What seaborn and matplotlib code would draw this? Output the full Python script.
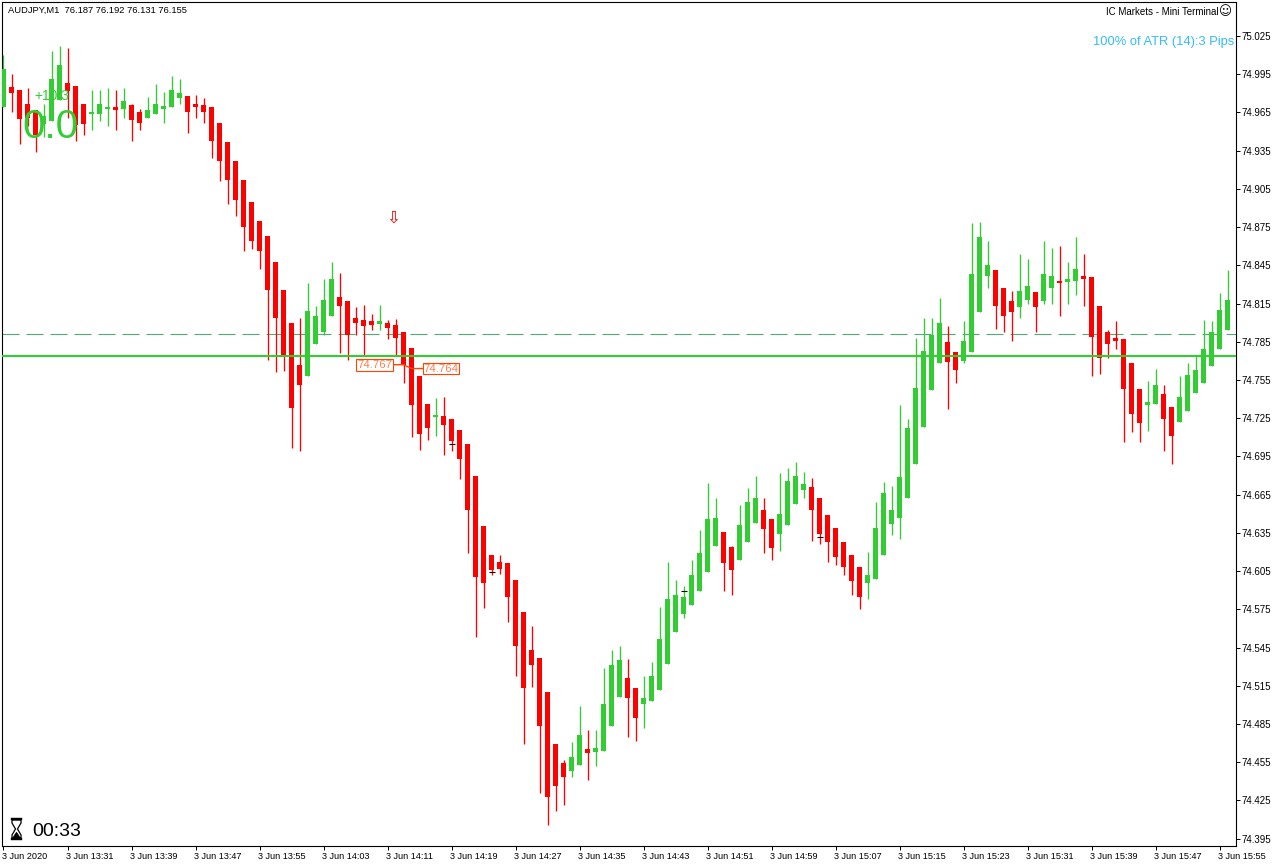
import matplotlib
matplotlib.use("Agg")
import matplotlib.pyplot as plt
from matplotlib.patches import Polygon
from matplotlib.transforms import ScaledTranslation
import numpy as np
import pandas as pd
import seaborn as sns

opens = [74.969,74.985,74.983,74.972,74.967,74.956,74.958,74.975,74.988,74.986,
74.972,74.964,74.964,74.968,74.969,74.968,74.971,74.965,74.961,74.964,
74.968,74.969,74.976,74.978,74.972,74.971,74.969,74.957,74.942,74.927,
74.912,74.895,74.880,74.868,74.848,74.826,74.800,74.767,74.758,74.783,
74.793,74.805,74.820,74.817,74.804,74.802,74.801,74.799,74.800,74.798,
74.793,74.780,74.758,74.736,74.726,74.727,74.724,74.716,74.705,74.680,
74.640,74.618,74.612,74.611,74.598,74.573,74.543,74.537,74.510,74.469,
74.454,74.448,74.453,74.465,74.463,74.464,74.483,74.506,74.521,74.513,
74.501,74.503,74.512,74.532,74.557,74.571,74.578,74.589,74.604,74.625,
74.636,74.624,74.614,74.628,74.643,74.653,74.646,74.634,74.641,74.658,
74.669,74.671,74.662,74.649,74.639,74.628,74.618,74.608,74.596,74.599,
74.618,74.642,74.647,74.662,74.689,74.718,74.747,74.768,74.785,74.777,
74.770,74.777,74.808,74.837,74.841,74.827,74.817,74.812,74.818,74.824,
74.817,74.827,74.833,74.832,74.833,74.837,74.836,74.813,74.793,74.788,
74.787,74.768,74.748,74.735,74.736,74.744,74.734,74.722,74.731,74.745,
74.753,74.766,74.779,74.794]
highs = [75.010,74.995,74.983,74.984,74.967,74.972,75.013,75.017,75.016,74.986,
74.972,74.983,74.983,74.984,74.983,74.984,74.972,74.968,74.977,74.987,
74.981,74.994,74.991,74.978,74.979,74.976,74.969,74.957,74.942,74.927,
74.912,74.895,74.880,74.868,74.848,74.826,74.800,74.804,74.831,74.813,
74.834,74.848,74.839,74.817,74.812,74.814,74.807,74.814,74.802,74.803,
74.793,74.780,74.758,74.736,74.741,74.742,74.724,74.716,74.705,74.680,
74.640,74.618,74.618,74.611,74.598,74.573,74.562,74.537,74.510,74.469,
74.457,74.471,74.499,74.480,74.480,74.529,74.543,74.546,74.536,74.513,
74.523,74.534,74.577,74.612,74.598,74.593,74.614,74.637,74.674,74.662,
74.636,74.625,74.657,74.670,74.680,74.662,74.646,74.682,74.686,74.691,
74.683,74.678,74.662,74.649,74.639,74.628,74.618,74.608,74.620,74.659,
74.675,74.672,74.735,74.724,74.788,74.804,74.804,74.819,74.797,74.777,
74.801,74.878,74.879,74.864,74.841,74.827,74.825,74.854,74.850,74.824,
74.864,74.859,74.860,74.848,74.867,74.854,74.836,74.813,74.794,74.801,
74.787,74.768,74.748,74.754,74.764,74.751,74.734,74.758,74.768,74.775,
74.802,74.801,74.823,74.841]
lows = [74.969,74.965,74.940,74.954,74.934,74.946,74.958,74.975,74.961,74.943,
74.947,74.951,74.958,74.954,74.951,74.961,74.943,74.951,74.961,74.964,
74.957,74.969,74.972,74.949,74.961,74.957,74.929,74.911,74.893,74.884,
74.856,74.858,74.842,74.771,74.761,74.762,74.702,74.699,74.758,74.783,
74.790,74.805,74.776,74.771,74.790,74.775,74.794,74.794,74.787,74.775,
74.753,74.710,74.700,74.708,74.711,74.696,74.699,74.677,74.619,74.553,
74.576,74.602,74.603,74.565,74.523,74.469,74.514,74.431,74.406,74.417,
74.421,74.443,74.453,74.441,74.452,74.464,74.483,74.506,74.475,74.472,
74.482,74.503,74.512,74.532,74.557,74.568,74.578,74.589,74.604,74.625,
74.589,74.586,74.614,74.628,74.643,74.619,74.614,74.621,74.641,74.658,
74.662,74.629,74.626,74.612,74.610,74.602,74.586,74.575,74.583,74.599,
74.618,74.633,74.630,74.662,74.689,74.718,74.747,74.768,74.732,74.753,
74.768,74.777,74.808,74.827,74.795,74.793,74.786,74.804,74.815,74.793,
74.815,74.815,74.805,74.815,74.822,74.813,74.758,74.760,74.772,74.779,
74.706,74.714,74.706,74.715,74.736,74.699,74.689,74.722,74.731,74.745,
74.753,74.766,74.779,74.794]
closes = [74.999,74.980,74.960,74.961,74.947,74.962,74.991,75.002,74.982,74.955,
74.956,74.965,74.972,74.969,74.967,74.974,74.959,74.957,74.967,74.972,
74.970,74.983,74.980,74.965,74.969,74.965,74.943,74.927,74.912,74.896,
74.875,74.864,74.856,74.826,74.804,74.773,74.733,74.751,74.809,74.805,
74.818,74.834,74.813,74.790,74.800,74.797,74.798,74.801,74.796,74.788,
74.767,74.735,74.713,74.717,74.727,74.720,74.707,74.693,74.653,74.600,
74.596,74.606,74.607,74.585,74.546,74.513,74.531,74.483,74.428,74.436,
74.443,74.459,74.476,74.462,74.466,74.501,74.531,74.535,74.505,74.490,
74.505,74.523,74.552,74.583,74.586,74.585,74.602,74.619,74.646,74.647,
74.611,74.606,74.641,74.659,74.662,74.638,74.623,74.650,74.676,74.680,
74.673,74.653,74.634,74.628,74.616,74.608,74.597,74.585,74.602,74.639,
74.666,74.653,74.679,74.717,74.749,74.778,74.790,74.800,74.769,74.763,
74.786,74.838,74.867,74.845,74.813,74.805,74.808,74.825,74.829,74.812,
74.838,74.837,74.831,74.834,74.842,74.834,74.789,74.772,74.783,74.786,
74.748,74.728,74.721,74.738,74.751,74.724,74.711,74.742,74.759,74.763,
74.779,74.793,74.810,74.818]

time_labels = ["3 Jun 2020","3 Jun 13:31","3 Jun 13:39","3 Jun 13:47","3 Jun 13:55",
               "3 Jun 14:03","3 Jun 14:11","3 Jun 14:19","3 Jun 14:27","3 Jun 14:35",
               "3 Jun 14:43","3 Jun 14:51","3 Jun 14:59","3 Jun 15:07","3 Jun 15:15",
               "3 Jun 15:23","3 Jun 15:31","3 Jun 15:39","3 Jun 15:47","3 Jun 15:55"]
price_ticks = [75.025,74.995,74.965,74.935,74.905,74.875,74.845,74.815,74.785,74.755,74.725,
               74.695,74.665,74.635,74.605,74.575,74.545,74.515,74.485,74.455,74.425,74.395]
cross_minutes = [56,61,85,102]
cross_prices = [74.705,74.604,74.589,74.632]
solid_level = 74.774
dashed_level = 74.7915
entry_price = 74.767
exit_price = 74.764

GREEN = "#32CD32"
RED = "#FF0000"
W, H = 1276, 867
UI = "Liberation Sans"

sns.set_theme(style="white")
plt.rcParams["font.family"] = [UI, "DejaVu Sans"]

df = pd.DataFrame({"minute": np.arange(len(opens)), "open": opens, "high": highs,
                   "low": lows, "close": closes})
df["bottom"] = df[["open", "close"]].min(axis=1)
df["body"] = (df["open"] - df["close"]).abs().clip(lower=0.0012)
df["color"] = np.where(df["close"] >= df["open"], GREEN, RED)

fig = plt.figure(figsize=(W / 100, H / 100), dpi=100, facecolor="white")
ax = fig.add_axes([2.5 / W, 1 - 846 / H, (1235.7 - 2.5) / W, (846 - 2.3) / H])
ax.set_facecolor("white")

ax.axhline(dashed_level, color="#55A87C", lw=0.8, ls=(0, (15.3, 6.3)), zorder=1)

ax.vlines(df["minute"], df["low"], df["high"], colors=df["color"], lw=0.95, zorder=2)
sns.barplot(data=df, x="minute", y="body", bottom=df["bottom"].to_numpy(), color=GREEN,
            saturation=1, width=0.625, errorbar=None, linewidth=0, zorder=3, ax=ax)
for patch, color in zip(ax.containers[0], df["color"]):
    patch.set_facecolor(color)

sns.scatterplot(x=cross_minutes, y=cross_prices, marker="_", s=22, color="black",
                linewidth=0.8, zorder=4, ax=ax, legend=False)

ax.axhline(solid_level, color=GREEN, lw=1.5, zorder=5)

# trade connector between the two price boxes
sns.lineplot(x=[48.7, 50, 51, 52.4], y=[entry_price, entry_price, exit_price, exit_price],
             sort=False, estimator=None, color="#FF4500", lw=1.0, zorder=6, ax=ax, legend=False)
box = dict(boxstyle="square,pad=0.08", fc="white", ec="#FF4500", lw=0.8)
ax.text(48.6, entry_price, f"{entry_price:.3f}", ha="right", va="center", color="#FF7F50",
        fontsize=8.2, bbox=box, zorder=7)
ax.text(52.5, exit_price, f"{exit_price:.3f}", ha="left", va="center", color="#FF7F50",
        fontsize=8.2, bbox=box, zorder=7)

ax.set_xlim(-0.125, 154.025)
ax.set_ylim(75.0533 - 0.000785 * 846, 75.0533 - 0.000785 * 2.3)
ax.set_xlabel("")
ax.set_ylabel("")
ax.yaxis.tick_right()
ax.set_yticks(price_ticks)
ax.set_yticklabels([f"{v:.3f}" for v in price_ticks])
ax.set_xticks(np.arange(len(time_labels)) * 8)
ax.set_xticklabels(time_labels, ha="left")
ax.tick_params(axis="y", right=True, left=False, length=2.9, width=0.72, pad=1.2,
               labelsize=7, color="black", labelcolor="black", direction="out")
ax.tick_params(axis="x", bottom=True, length=2.9, width=0.72, pad=1.6,
               labelsize=6.6, color="black", labelcolor="black", direction="out")
shift = ScaledTranslation(-1 / 100, 0, fig.dpi_scale_trans)
for lab in ax.get_xticklabels():
    lab.set_transform(lab.get_transform() + shift)
for s in ax.spines.values():
    s.set_visible(True)
    s.set_color("black")
    s.set_linewidth(0.8)


def px_text(x, y, s, **kw):
    kw.setdefault("va", "center")
    kw.setdefault("zorder", 10)
    fig.text(x / W, 1 - y / H, s, **kw)


def px_poly(points, **kw):
    pts = [(x / W, 1 - y / H) for x, y in points]
    fig.add_artist(Polygon(pts, closed=True, transform=fig.transFigure, zorder=10, **kw))


px_text(7.5, 10, "AUDJPY,M1  76.187 76.192 76.131 76.155", fontsize=6.75, color="black")
px_text(1218, 12, "IC Markets - Mini Terminal", ha="right", fontsize=7, color="black")
px_text(1225, 12, "\u263A", ha="center", fontsize=9, color="black", family="DejaVu Sans")
px_text(1234, 41.5, "100% of ATR (14):3 Pips", ha="right", fontsize=9.3, color="#33BBFF")
px_text(50, 127, "0.0", ha="center", fontsize=29, color=GREEN)
px_text(34, 96, "+10.3", ha="left", fontsize=10, color=GREEN)
px_text(32, 831.5, "00:33", ha="left", fontsize=14, color="black")
px_text(393.5, 217.5, "\u21E9", ha="center", fontsize=12, color=RED, family="DejaVu Sans")

# hourglass icon: no installed family has this glyph
px_poly([(12, 820), (21, 820), (21, 823), (17.5, 829), (21, 835), (21, 838), (12, 838),
         (12, 835), (15.5, 829), (12, 823)], fc="white", ec="black", lw=0.9)
px_poly([(10.5, 818), (22.5, 818), (22.5, 820), (10.5, 820)], fc="black", ec="black", lw=0.3)
px_poly([(10.5, 838), (22.5, 838), (22.5, 840), (10.5, 840)], fc="black", ec="black", lw=0.3)
px_poly([(16.5, 832), (20.5, 838), (12.5, 838)], fc="black", ec="black", lw=0.3)

fig.savefig("out.png", dpi=100, facecolor="white")
